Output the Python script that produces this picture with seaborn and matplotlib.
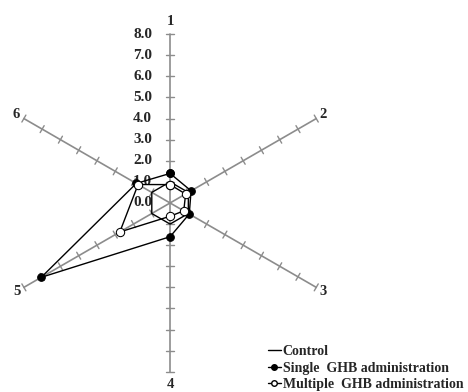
import matplotlib.pyplot as plt
from matplotlib.lines import Line2D
import numpy as np
import pandas as pd
import seaborn as sns

axis_labels = ['1', '2', '3', '4', '5', '6']
control = [1.0, 1.0, 1.0, 1.0, 1.0, 1.0]
single_ghb = [1.4, 1.15, 1.05, 1.6, 7.05, 1.85]
multiple_ghb = [0.87, 0.85, 0.75, 0.63, 2.75, 1.75]
scale_ticks = [0, 1, 2, 3, 4, 5, 6, 7, 8]

sns.set_style('white')
plt.rcParams['font.family'] = ['Liberation Serif', 'DejaVu Serif']
plt.rcParams['font.weight'] = 'bold'

# spokes clockwise from the top
angles = np.deg2rad(90 - 60 * np.arange(len(axis_labels)))

fig = plt.figure(figsize=(4.68, 3.92), dpi=100)
ax = fig.add_axes([0, 0, 1, 1])
ax.set_xlim(-8.06, 14.12)
ax.set_ylim(-8.96, 9.62)
ax.axis('off')

grey = '#8c8c8c'
rmax = scale_ticks[-1]
for a, lab in zip(angles, axis_labels):
    c, s = np.cos(a), np.sin(a)
    ax.plot([0, rmax * c], [0, rmax * s], color=grey, lw=1.2, zorder=1)
    for r in scale_ticks[1:]:
        ax.plot([r * c - 0.19 * s, r * c + 0.19 * s],
                [r * s + 0.19 * c, r * s - 0.19 * c],
                color=grey, lw=1.0, zorder=1)
    r_lab = 8.6 if abs(c) < 0.01 else 8.4
    ax.text(r_lab * c, r_lab * s, lab, fontsize=10.5, fontweight='bold',
            ha='center', va='center')

for t in scale_ticks:
    ax.text(-0.85, t, f'{t:.1f}', fontsize=11, fontweight='bold',
            ha='right', va='center')


def polygon(values, name):
    vals = np.array(values + values[:1])
    ang = np.append(angles, angles[0])
    return pd.DataFrame({'x': vals * np.cos(ang), 'y': vals * np.sin(ang),
                         'order': range(len(vals)), 'series': name})


df_c = polygon(control, 'Control')
df_s = polygon(single_ghb, 'Single  GHB administration')
df_m = polygon(multiple_ghb, 'Multiple  GHB administration')

sns.lineplot(data=df_c, x='x', y='y', sort=False, estimator=None,
             color='black', lw=1.0, ax=ax, zorder=3)
sns.lineplot(data=df_s, x='x', y='y', sort=False, estimator=None,
             color='black', lw=1.0, marker='o', markersize=5.5,
             markerfacecolor='black', markeredgecolor='black', ax=ax, zorder=4)
sns.lineplot(data=df_m, x='x', y='y', sort=False, estimator=None,
             color='black', lw=1.0, marker='o', markersize=6,
             markerfacecolor='white', markeredgecolor='black', ax=ax, zorder=5)

handles = [
    Line2D([], [], color='black', lw=1.0),
    Line2D([], [], color='black', lw=1.0, marker='o', markersize=4,
           markerfacecolor='black'),
    Line2D([], [], color='black', lw=1.0, marker='o', markersize=4,
           markerfacecolor='white'),
]
labels = [df_c['series'][0], df_s['series'][0], df_m['series'][0]]
leg = ax.legend(handles, labels, loc='lower left',
                bbox_to_anchor=(268 / 468, 1 / 392), frameon=False,
                handlelength=0.9, handletextpad=0.15, labelspacing=0.25,
                borderpad=0, borderaxespad=0,
                prop={'size': 10, 'weight': 'bold'})

fig.savefig('out.png', dpi=100)
